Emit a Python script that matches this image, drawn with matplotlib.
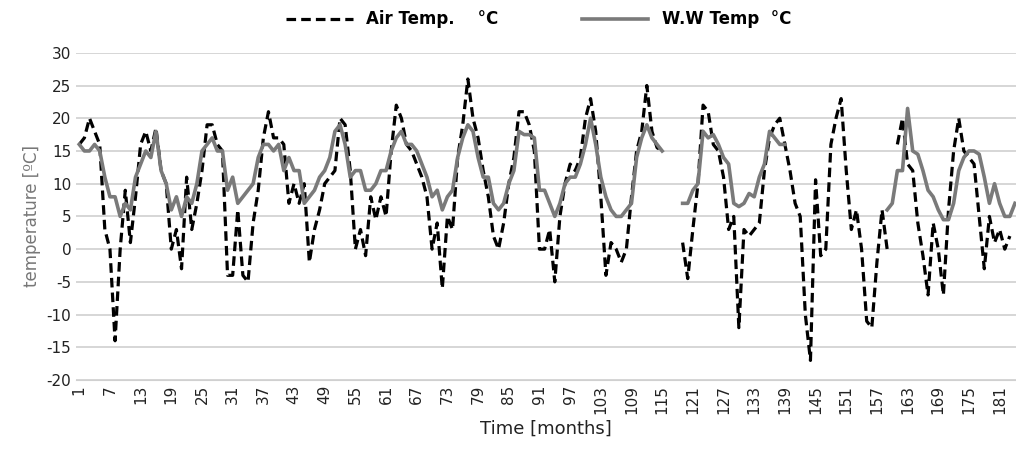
import matplotlib.pyplot as plt
import numpy as np

plt.rcParams['axes.unicode_minus'] = False

nan = np.nan

# air temperature, months 1-58, 59-115, gap, 119-183
air_a = [16, 17, 20, 18, 16, 3, 0, -14, 0, 9, 1, 8, 16, 18, 15, 18.5, 12, 10, 0, 3,
         -3, 11, 3, 7, 12, 19, 19, 16, 15, -4, -4, 6, -4, -5, 4, 9, 17, 21, 17, 17,
         16, 7, 10, 7, 10, -2, 3, 6, 10, 11, 12, 20, 19, 12, 0, 3, -1, 8]
air_b = [4.5, 8, 5, 15, 22, 20, 16, 15, 13, 11, 8, 0, 4, -6, 5, 3, 14, 19, 26, 20,
         17, 12, 8, 2, 0, 4, 10, 14, 21, 21, 19, 15, 0, 0, 3, -5, 5, 10, 13, 12,
         14, 20, 23, 18, 8, -4, 1, 0, -2, 0, 8, 15, 18, 25, 18, 15.5, 15]
air_c = [1, -4.5, 3, 10, 22, 21, 16, 15, 11, 3, 5, -12, 3, 2, 3, 4, 12, 17, 19, 20,
         16, 12, 7, 5, -10, -17, 10.6, -1, 0, 16, 20, 23, 12, 3, 6, 0, -11, -12, -2, 6,
         0, nan, 16, 20, 13, 12, 4, -1, -7, 4, 0, -7, 6, 15, 20, 15, 14, 13, 5, -3,
         5, 1, 3, 0, 2, nan]

ww_a = [16, 15, 15, 16, 15, 11, 8, 8, 5, 7, 6, 11, 13, 15, 14, 18, 12, 10, 6, 8,
        5, 8, 7, 10, 15, 16, 17, 15, 15, 9, 11, 7, 8, 9, 10, 14, 16, 16, 15, 16,
        12, 14, 12, 12, 7, 8, 9, 11, 12, 14, 18, 19, 16, 11, 12, 12, 9, 9]
ww_b = [10, 12, 12, 15, 17, 18, 16, 16, 15, 13, 11, 8, 9, 6, 8, 9, 14, 17, 19, 18,
        14, 11, 11, 7, 6, 7, 10, 12, 18, 17.5, 17.5, 17, 9, 9, 7, 5, 7, 10, 11, 11,
        13, 16, 20, 16, 11, 8, 6, 5, 5, 6, 7, 14, 17, 19, 17, 16, 15]
ww_c = [7, 7, 9, 10, 18, 17, 17.5, 16, 14, 13, 7, 6.5, 7, 8.5, 8, 11, 13, 18, 17, 16, 16]
ww_d = [6, 7, 12, 12, 21.5, 15, 14.5, 12, 9, 8, 6, 4.5, 4.5, 7, 12, 14, 15, 15, 14.5, 11,
        7, 10, 7, 5, 5, 7]

air = np.array(air_a + air_b + [nan] * 3 + air_c, dtype=float)
ww = np.array(ww_a + ww_b + [nan] * 3 + ww_c + [nan] * 19 + ww_d, dtype=float)
months = np.arange(1, len(ww) + 1)

fig = plt.figure(figsize=(10.16, 4.59), dpi=100)
ax = fig.add_axes([0.075, 0.172, 0.925, 0.713])

ax.plot(months, air, color='black', lw=2.3, linestyle=(0, (3, 1.6)), label='Air Temp.    °C')
ax.plot(months, ww, color='#7a7a7a', lw=2.6, label='W.W Temp  °C')

ax.set_ylim(-20, 30)
ax.set_yticks(range(-20, 31, 5))
ax.set_xlim(0.4, 184.2)
ax.set_xticks(range(1, 182, 6))
ax.tick_params(axis='x', rotation=90, length=0, labelsize=11, colors='#222222')
ax.tick_params(axis='y', length=0, labelsize=11, colors='#222222')
ax.grid(axis='y', color='#d0d0d0', lw=1.2)
ax.set_axisbelow(True)
for s in ax.spines.values():
    s.set_visible(False)
ax.spines['bottom'].set_visible(True)
ax.spines['bottom'].set_color('#d0d0d0')

ax.set_xlabel('Time [months]', fontsize=13, color='#222222')
ax.set_ylabel('temperature [ºC]', fontsize=12, color='#777777')

leg = fig.legend(loc='upper center', bbox_to_anchor=(0.53, 1.01), ncol=2, frameon=False,
                 prop={'weight': 'bold', 'size': 12}, handlelength=4, columnspacing=5)

fig.savefig('out.png')
